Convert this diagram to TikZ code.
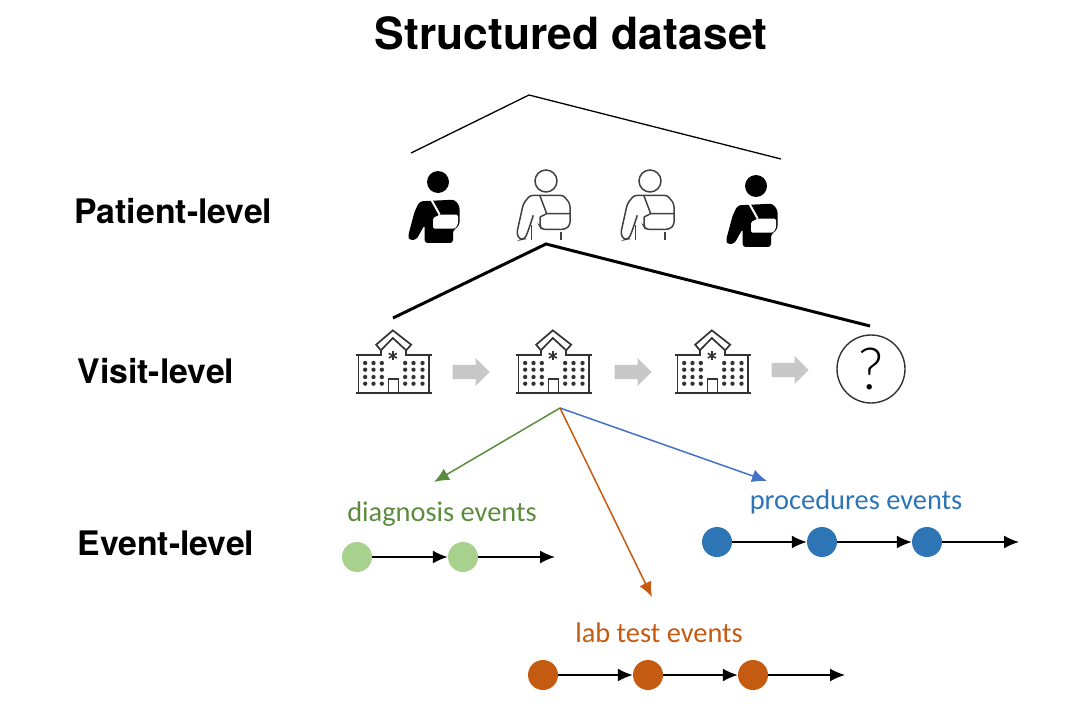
\documentclass[tikz,border=0pt]{standalone}
\usepackage{fontspec}
\setmainfont{TeX Gyre Heros}
\newfontfamily\eventfont{Carlito}
\newfontfamily\thinfont{Lato Light}
\usetikzlibrary{arrows.meta,shapes.arrows}
\definecolor{dxgreen}{HTML}{5B8C3E}
\definecolor{dxfill}{HTML}{A9D18E}
\definecolor{labblue}{HTML}{2E75B6}
\definecolor{linkblue}{HTML}{4472C4}
\definecolor{laborange}{HTML}{C55A11}
\definecolor{stepgray}{HTML}{C8C8C8}
\tikzset{
    rowlabel/.style={font=\bfseries\fontsize{33.8}{36}\selectfont},
    eventlabel/.style={font=\eventfont\fontsize{28.4}{30}\selectfont},
    thintree/.style={black,line width=1.3pt},
    thicktree/.style={black,line width=3pt},
    nextstep/.style={single arrow,fill=stepgray,minimum height=37pt,single arrow head extend=7pt,inner xsep=0pt,inner ysep=7pt,anchor=tip},
    link/.style={-{Latex[length=15pt,width=13pt]},line width=1.5pt},
    eventlink/.style={-{Latex[length=15pt,width=13pt]},black,line width=1.6pt},
    event/.style={circle,minimum size=30pt,inner sep=0pt},
    patientdark/.pic={
        \begin{scope}[x=0.3333pt,y=-0.3333pt]
        \fill[black](0,0)circle(33);
        \fill[black,rounded corners=3pt](-55,58)--(50,53)--(65,73)--(65,128)--(50,143)--(45,143)--(45,183)--(-40,183)--(-40,128)--(-65,173)--(-85,175)--(-90,163)--(-70,88)--cycle;
        \fill[white,rounded corners=1.5pt](5,98)--(60,98)--(60,128)--(50,140)--(-15,140)--(-15,108)--cycle;
        \draw[white,line width=2pt](-20,53)--(5,98);
        \end{scope}
    },
    patientlight/.pic={
        \begin{scope}[x=0.3333pt,y=-0.3333pt,line width=1.5pt,black!75]
        \draw(0,0)circle(33);
        \draw(-18,108)--(2,98)--(72,98);
        \draw[rounded corners=3pt](-38,103)--(-53,148)--(-63,173)--(-78,176)--(-88,158)--(-68,68)--(-48,43)--(52,43)--(72,68)--(72,133)--(57,145)--(-13,145)--(-18,136)--(-18,108);
        \draw(-18,45)--(2,98);
        \draw(-43,133)--(-43,176);
        \draw(45,153)--(45,178);
        \end{scope}
    },
    hospital/.pic={
        \begin{scope}[x=0.3333pt,y=-0.3333pt,line width=1.7pt,black!80]
        \draw(-113,-115)--(-38,-115)--(-38,-128);
        \draw(115,-115)--(38,-115)--(38,-128);
        \draw(-113,0)--(115,0);
        \draw(-105,-115)--(-105,0);
        \draw(107,-115)--(107,0);
        \draw(-52,-145)--(-2,-188)--(53,-145)--(38,-128)--(-2,-165)--(-38,-128)--cycle;
        \draw(-15,0)--(-15,-42)--(15,-42)--(15,0);
        \foreach \ang in {30,90,150}{
            \draw[rotate around={\ang:(-2,-112)},line width=1.6pt](-16,-112)--(12,-112);
        }
        \foreach \rowy in {-90,-70,-48,-28}{
            \foreach \colx in {-85,-60,-35,35,60,87}{
                \fill(\colx,\rowy)circle(6.5);
            }
        }
        \end{scope}
    }
}
\begin{document}
\begin{tikzpicture}[x=1pt,y=-1pt]
\useasboundingbox(0,0)rectangle(1068,728);
\node[font=\bfseries\fontsize{44.4}{48}\selectfont](title)at(571,33){Structured dataset};
\node[rowlabel,anchor=west](patientrow)at(71,211){Patient-level};
\node[rowlabel,anchor=west](visitrow)at(74,371){Visit-level};
\node[rowlabel,anchor=west](eventrow)at(74,543){Event-level};
% patient level
\coordinate(toptip)at(529,95);
\coordinate(topleft)at(411,153);
\coordinate(topright)at(781,159);
\draw[thintree](topleft)--(toptip)--(topright);
\pic at(438,182){patientdark};
\pic at(546,181){patientlight};
\pic at(650,181){patientlight};
\pic at(756,186){patientdark};
% visit level
\coordinate(visittip)at(546,244);
\coordinate(visitleft)at(393,318);
\coordinate(visitright)at(870,326);
\draw[thicktree](visitleft)--(visittip)--(visitright);
\pic at(393.5,393){hospital};
\pic at(553.5,393){hospital};
\pic at(712.5,393){hospital};
\node[nextstep](stepa)at(490,372){};
\node[nextstep](stepb)at(652,372){};
\node[nextstep](stepc)at(809,370){};
\node[circle,draw=black!80,line width=1.4pt,minimum size=68pt,inner sep=0pt,font=\thinfont\fontsize{58}{60}\selectfont](unknown)at(871,369){?};
% event level
\coordinate(split)at(560,408);
\node[eventlabel,text=dxgreen](dxlabel)at(442,514){diagnosis events};
\node[eventlabel,text=labblue](proclabel)at(856,502){procedures events};
\node[eventlabel,text=laborange](lablabel)at(659,633){lab test events};
\coordinate(dxend)at(434,482);
\coordinate(procend)at(767,481);
\coordinate(labend)at(652,597);
\draw[link,dxgreen](split)--(dxend);
\draw[link,linkblue](split)--(procend);
\draw[link,laborange](split)--(labend);
\node[event,fill=dxfill](dxa)at(357,557){};
\node[event,fill=dxfill](dxb)at(463,557){};
\coordinate(dxout)at(555,557);
\draw[eventlink](dxa)--(dxb);
\draw[eventlink](dxb)--(dxout);
\node[event,fill=labblue](proca)at(717,542){};
\node[event,fill=labblue](procb)at(822,542){};
\node[event,fill=labblue](procc)at(927,542){};
\coordinate(procout)at(1019,542);
\draw[eventlink](proca)--(procb);
\draw[eventlink](procb)--(procc);
\draw[eventlink](procc)--(procout);
\node[event,fill=laborange](laba)at(543,675){};
\node[event,fill=laborange](labb)at(648,675){};
\node[event,fill=laborange](labc)at(753,675){};
\coordinate(labout)at(845,675);
\draw[eventlink](laba)--(labb);
\draw[eventlink](labb)--(labc);
\draw[eventlink](labc)--(labout);
\end{tikzpicture}
\end{document}
